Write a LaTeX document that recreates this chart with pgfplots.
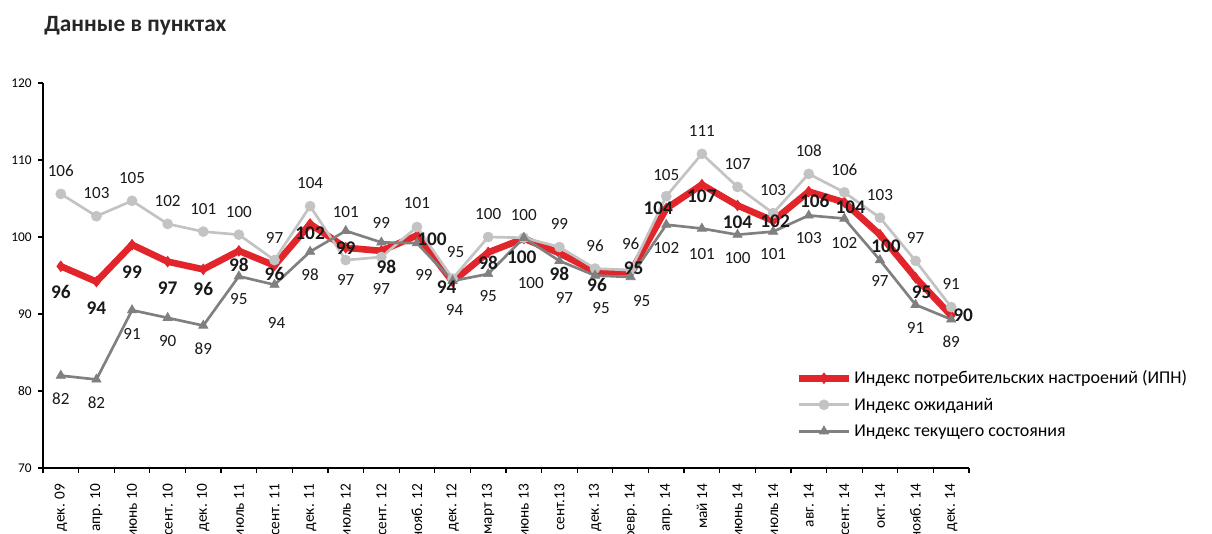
\documentclass[border=0pt]{standalone}
\usepackage{fontspec}
\setmainfont{Carlito}
\usepackage{pgfplots}
\usepackage{pgfplotstable}
\pgfplotsset{compat=1.18}

\definecolor{ipn}{HTML}{E2252B}
\definecolor{expc}{HTML}{C3C3C3}
\definecolor{curr}{HTML}{808080}

% x y lab dx dy  (dx, dy: label offset in image px)
\pgfplotstableread{
x y lab dx dy
0 96.2 96 0 -26
1 94.2 94 0 -26
2 99.0 99 0 -27
3 96.8 97 0 -27
4 95.8 96 0 -20
5 98.2 98 0 -14
6 96.3 96 0 -8
7 101.7 102 0 -9
8 98.6 99 0 0
9 98.2 98 5 -16
10 100.2 100 15 -4
11 94.2 94 -6 -5
12 98.0 98 0 -10
13 99.8 100 -2 -19
14 97.9 98 0 -21
15 95.5 96 2 -13
16 95.4 95 3 4
17 103.7 104 -8 0
18 106.8 107 0 -12
19 104.1 104 0 -17
20 102.1 102 2 0
21 105.9 106 6 -9
22 104.5 104 6 -5
23 100.3 100 6 -12
24 94.7 95 6 -14
25 89.8 90 12 0
}\ipn

\pgfplotstableread{
x y lab dx dy
0 105.6 106 0 23
1 102.7 103 0 23
2 104.7 105 0 23
3 101.7 102 0 23
4 100.7 101 0 23
5 100.3 100 0 23
6 97.0 97 0 22
7 104.0 104 0 23
8 97.0 97 0 -20
9 97.4 97 0 -32
10 101.3 101 0 24
11 94.6 95 3 27
12 100.0 100 0 23
13 99.9 100 0 23
14 98.7 99 0 23
15 95.9 96 0 23
16 95.7 96 0 26
17 105.3 105 0 21
18 110.8 111 0 23
19 106.5 107 0 23
20 103.1 103 0 23
21 108.2 108 0 23
22 105.8 106 0 23
23 102.5 103 0 23
24 96.9 97 0 23
25 90.9 91 0 23
}\expt

\pgfplotstableread{
x y lab dx dy
0 82.0 82 0 -23
1 81.5 82 0 -23
2 90.5 91 0 -24
3 89.5 90 0 -23
4 88.5 89 0 -23
5 94.9 95 0 -23
6 93.8 94 2 -38
7 98.1 98 0 -23
8 100.8 101 0 19
9 99.3 99 0 19
10 99.2 99 7 -32
11 94.3 94 2 -29
12 95.2 95 0 -22
13 99.9 100 7 -45
14 96.9 97 5 -37
15 95.0 95 6 -33
16 94.8 95 11 -24
17 101.6 102 0 -23
18 101.1 101 0 -25
19 100.3 100 0 -23
20 100.7 101 0 -22
21 102.8 103 0 -23
22 102.4 102 0 -24
23 97.0 97 0 -21
24 91.2 91 0 -23
25 89.3 89 0 -22
}\curr

\begin{document}
\begin{tikzpicture}
\useasboundingbox (0pt,0pt) rectangle (909pt,399.75pt);
\node[anchor=base west, inner sep=0pt, text=black!85,
      font=\fontsize{17.5}{20}\selectfont\bfseries]
  at (33pt,375.75pt) {Данные в пунктах};
\begin{axis}[
    scale only axis,
    width=694.5pt, height=288.75pt,
    at={(32.25pt,48.75pt)}, anchor=south west,
    xmin=-0.5, xmax=25.5,
    ymin=70, ymax=120,
    ytick={70,80,...,120},
    xtick={0,...,25},
    xticklabels={дек. 09, апр. 10, июнь 10, сент. 10, дек. 10, июль 11,
        сент. 11, дек. 11, июль 12, сент. 12, нояб. 12, дек. 12, март 13,
        июнь 13, сент.13, дек. 13, февр. 14, апр. 14, май 14, июнь 14,
        июль 14, авг. 14, сент. 14, окт. 14, нояб. 14, дек. 14},
    minor xtick={-0.5,0.5,...,25.5},
    major x tick style={draw=none},
    tick align=outside,
    major tick length=3.75pt,
    minor tick length=3.75pt,
    tick style={black, line width=0.9pt},
    axis x line*=bottom,
    axis y line*=left,
    axis line style={black, line width=1pt},
    xticklabel style={rotate=90, anchor=east, inner sep=0pt,
        font=\fontsize{11.5}{13}\selectfont},
    xticklabel shift=8pt,
    yticklabel style={font=\fontsize{10}{12}\selectfont, inner sep=0pt},
    yticklabel shift=4.5pt,
    /pgf/number format/assume math mode=true,
    clip=false,
    legend cell align=left,
    legend style={at={(0.8125,0.2615)}, anchor=north west, draw=none,
        fill=none, inner sep=0pt, row sep=3.9pt,
        font=\fontsize{13.5}{16}\selectfont,
        nodes={inner xsep=1.5pt, inner ysep=0pt, text height=12pt, text depth=4pt}},
    legend image code/.code={
        \draw[mark repeat=2, mark phase=2, #1]
            plot coordinates {(0pt,0pt) (18.75pt,0pt) (37.5pt,0pt)};},
]
\addplot[ipn, line width=5pt, mark=diamond*, mark size=4pt,
    mark options={solid, line width=0.5pt}] table[x=x, y=y] {\ipn};
\addlegendentry{Индекс потребительских настроений (ИПН)}
\addplot[expc, line width=2pt, mark=*, mark size=3.75pt,
    mark options={solid, line width=0.5pt}] table[x=x, y=y] {\expt};
\addlegendentry{Индекс ожиданий}
\addplot[curr, line width=2pt, mark=triangle*, mark size=4pt,
    mark options={solid, line width=0.5pt}] table[x=x, y=y] {\curr};
\addlegendentry{Индекс текущего состояния}

% data labels on top
\pgfplotsset{lbl/.style={draw=none, mark=none, forget plot,
    nodes near coords, point meta=explicit symbolic,
    visualization depends on={\thisrow{dx} \as \dx},
    visualization depends on={\thisrow{dy} \as \dy},
    nodes near coords style={anchor=center, inner sep=0pt, text=black!90,
        xshift=0.75pt*\dx, yshift=0.75pt*\dy}}}
\addplot[lbl, nodes near coords style={font=\fontsize{14.5}{16}\selectfont\bfseries}]
    table[x=x, y=y, meta=lab] {\ipn};
\addplot[lbl, nodes near coords style={font=\fontsize{12.8}{14}\selectfont}]
    table[x=x, y=y, meta=lab] {\expt};
\addplot[lbl, nodes near coords style={font=\fontsize{12.8}{14}\selectfont}]
    table[x=x, y=y, meta=lab] {\curr};
\end{axis}
\end{tikzpicture}
\end{document}
